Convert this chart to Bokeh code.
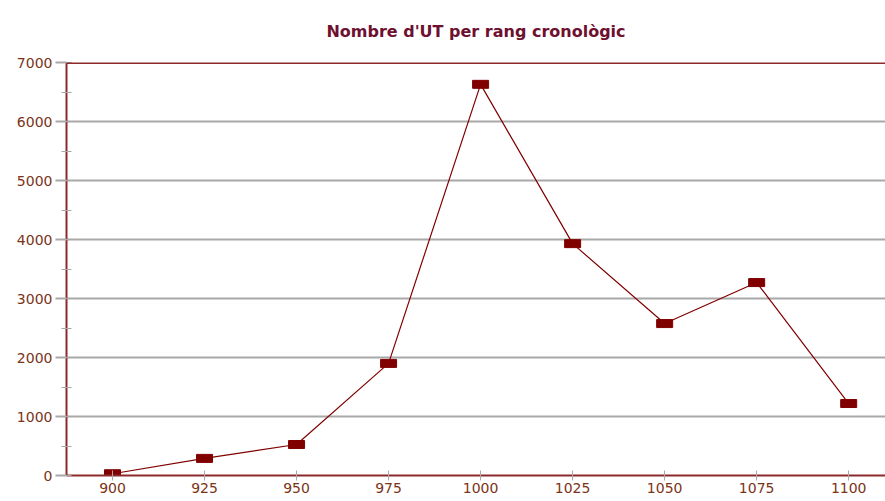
from bokeh.plotting import figure
from bokeh.models import SingleIntervalTicker, Span, ColumnDataSource, Range1d
from bokeh.embed import file_html
from bokeh.resources import INLINE

years = [900, 925, 950, 975, 1000, 1025, 1050, 1075, 1100]
counts = [30, 290, 525, 1900, 6630, 3930, 2575, 3270, 1220]
title_text = "Nombre d'UT per rang cronològic"

MAROON = "#800000"
AXIS_RED = "#8b2a2a"
GRID = "#a8a8a8"
LABEL = "#7a3418"
FONT = "DejaVu Sans"

src = ColumnDataSource(dict(x=years, y=counts))

p = figure(width=885, height=501, output_backend="svg", toolbar_location=None,
           x_range=Range1d(887.5, 1110), y_range=Range1d(0, 7000),
           min_border_left=66, min_border_right=0, min_border_bottom=26, min_border_top=62)

p.title.text = title_text
p.title.align = "center"
p.title.vertical_align = "top"
p.title.text_font = FONT
p.title.text_font_size = "16px"
p.title.text_font_style = "bold"
p.title.text_color = "#6e1030"
p.title.standoff = 40

p.outline_line_color = None
p.background_fill_color = "white"
p.border_fill_color = "white"

p.xgrid.grid_line_color = None
p.ygrid.ticker = SingleIntervalTicker(interval=1000, num_minor_ticks=2)
p.ygrid.grid_line_color = GRID
p.ygrid.grid_line_width = 2

p.xaxis.ticker = SingleIntervalTicker(interval=25, num_minor_ticks=0)
p.yaxis.ticker = SingleIntervalTicker(interval=1000, num_minor_ticks=2)

for ax in (p.xaxis[0], p.yaxis[0]):
    ax.axis_line_color = AXIS_RED
    ax.axis_line_width = 2
    ax.major_tick_line_color = GRID
    ax.minor_tick_line_color = GRID
    ax.major_label_text_font = FONT
    ax.major_label_text_font_size = "14px"
    ax.major_label_text_color = LABEL

p.xaxis.major_tick_in = 5
p.xaxis.major_tick_out = 5
p.xaxis.major_tick_line_width = 1
p.xaxis.minor_tick_line_color = None
p.xaxis.major_label_standoff = 2

p.yaxis.major_tick_in = 0
p.yaxis.major_tick_out = 11
p.yaxis.major_tick_line_width = 2
p.yaxis.minor_tick_in = 5
p.yaxis.minor_tick_out = 5
p.yaxis.major_label_standoff = 3

p.add_layout(Span(location=7000, dimension="width", line_color=AXIS_RED, line_width=3))

p.line("x", "y", source=src, line_color=MAROON, line_width=1.2)
p.rect("x", "y", width=16, height=8, width_units="screen", height_units="screen",
       source=src, fill_color=MAROON, line_color=MAROON)

open("out.html", "w").write(file_html(p, INLINE))
